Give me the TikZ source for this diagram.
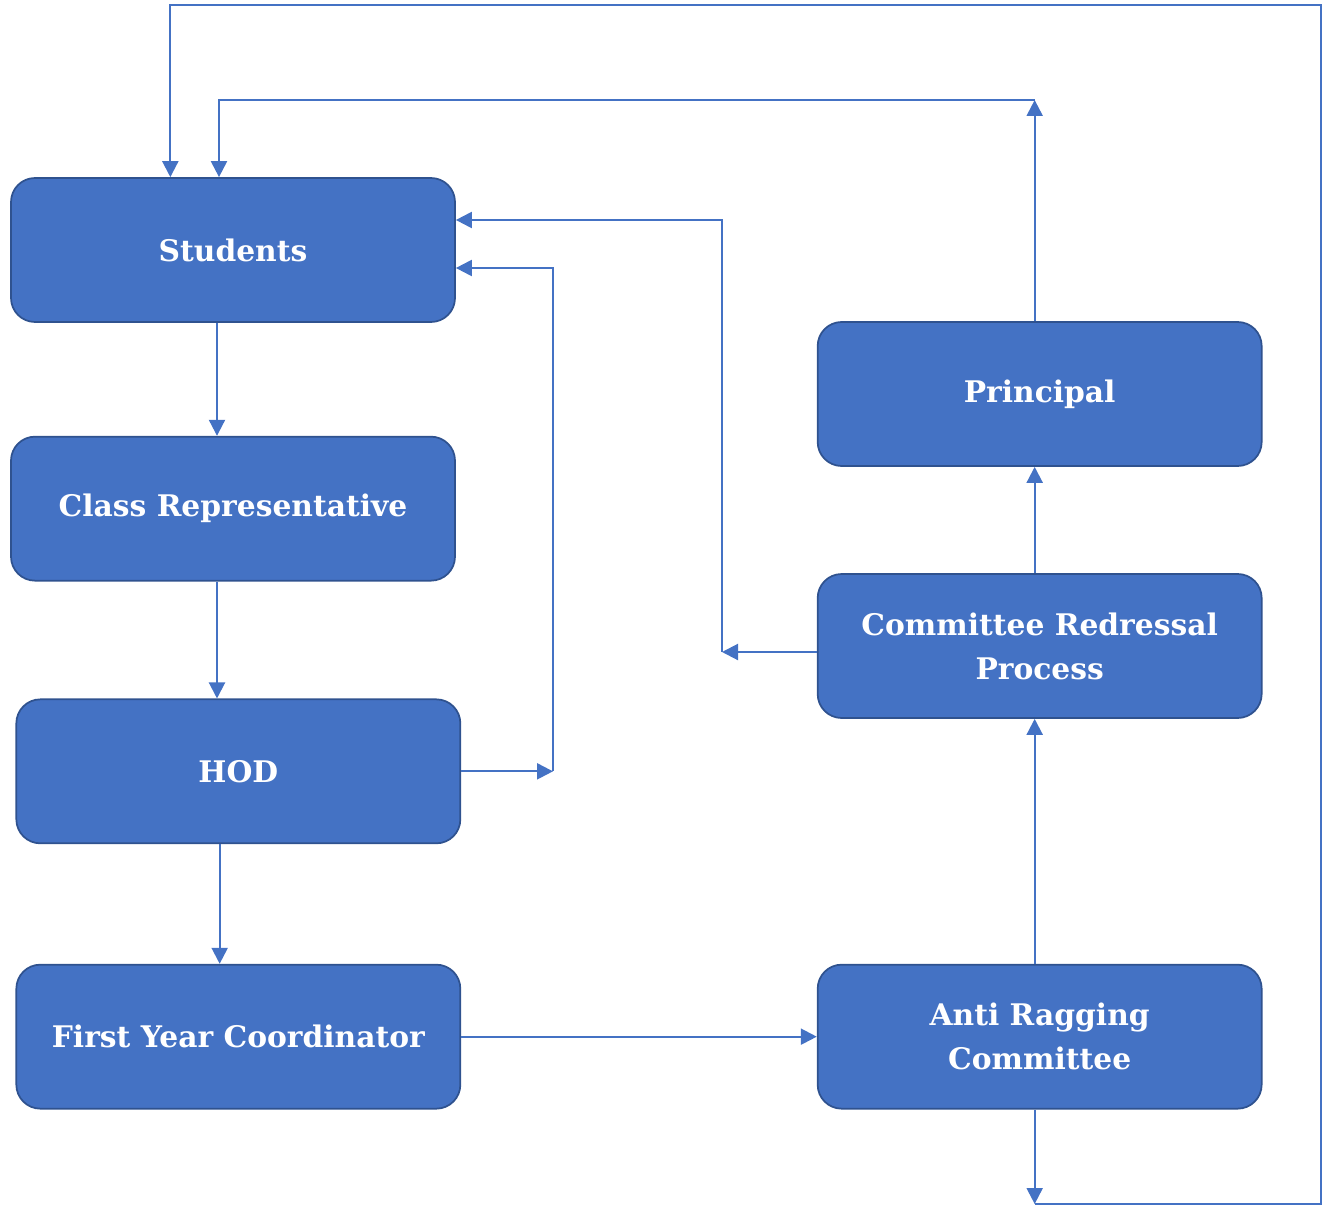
\documentclass[tikz,border=0pt]{standalone}
\usepackage{fontspec}
\setmainfont{DejaVu Serif}
\usepackage{xcolor}
\usepackage{tikz}
\usetikzlibrary{shapes,arrows.meta,positioning,calc}
\definecolor{boxblue}{HTML}{4472C4}
\definecolor{boxedge}{HTML}{2F528F}

\begin{document}
\begin{tikzpicture}[x=0.75pt, y=-0.75pt, >={Triangle[length=12pt,width=12pt]}]
        % Styles
        \tikzstyle{box} = [rectangle, draw=boxedge, fill=boxblue, line width=1.3pt, rounded corners=18pt, minimum width=333pt, minimum height=108pt, text=white, align=center, font=\bfseries\fontsize{22.3}{33}\selectfont]
        \tikzstyle{line} = [draw=boxblue, ->, line width=1.6pt]

        \useasboundingbox (0,0) rectangle (1338,1205);

        % Nodes
        \node [box] (students) at (233,250) {Students};
        \node [box, below of=students, node distance=194pt] (classrep) {Class Representative};
        \node [box, below of=classrep, node distance=197pt, xshift=4pt] (hod) {HOD};
        \node [box, below of=hod, node distance=199pt] (fyc) {First Year Coordinator};
        \node [box, right of=fyc, node distance=601pt] (arc) {Anti Ragging\\Committee};
        \node [box, above of=arc, node distance=293pt] (crp) {Committee Redressal\\Process};
        \node [box, above of=crp, node distance=189pt] (principal) {Principal};

        % Turning points
        \coordinate (pn) at ([xshift=-3.75pt]principal.north);
        \coordinate (as) at ([xshift=-3.75pt]arc.south);
        \coordinate (ptop) at (pn |- 0,100);
        \coordinate (abot) at (as |- 0,1204);
        \coordinate (rbot) at (1321,1204);
        \coordinate (rtop) at (1321,5);
        \coordinate (hodjoin) at (hod.east -| 553,0);
        \coordinate (crpjoin) at (722,652);

        % Edges
        \path [line] ([xshift=-12pt]students.south) -- ([xshift=-12pt]students.south |- classrep.north);
        \path [line] ([xshift=-12pt]classrep.south) -- ([xshift=-12pt]classrep.south |- hod.north);
        \path [line] ([xshift=-14pt]hod.south) -- ([xshift=-14pt]hod.south |- fyc.north);
        \path [line] (fyc) -- (arc);
        \path [line] ([xshift=-3.75pt]arc.north) -- ([xshift=-3.75pt]crp.south);
        \path [line] ([xshift=-3.75pt]crp.north) -- ([xshift=-3.75pt]principal.south);
        \path [line] (pn) -- (ptop);
        \path [line] (ptop) -| ([xshift=-10.5pt]students.north);
        \path [line] (as) -- (abot);
        \path [line] (abot) -- (rbot) -- (rtop) -| ([xshift=-47pt]students.north);
        \path [line] (hod.east) -- (hodjoin);
        \path [line] (hodjoin) |- ([yshift=-13.5pt]students.east);
        \path [line] ([yshift=-4.5pt]crp.west) -- (crpjoin);
        \path [line] (crpjoin) |- ([yshift=22.5pt]students.east);

    \end{tikzpicture}
\end{document}
